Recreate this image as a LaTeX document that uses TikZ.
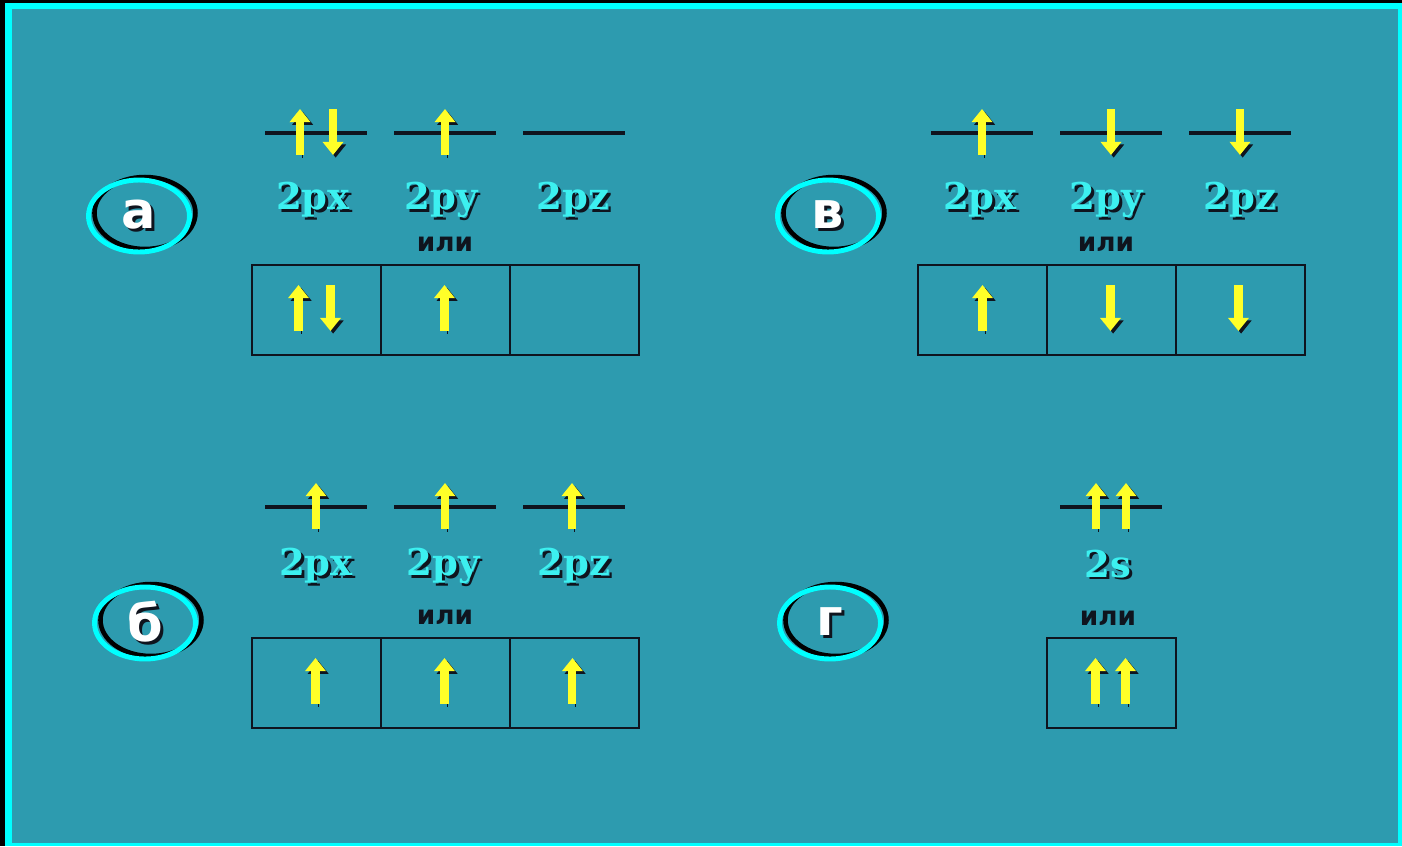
\documentclass[tikz,border=0pt]{standalone}
\usepackage{fontspec}
\setmainfont{DejaVu Sans}
\newfontfamily\orbfont{DejaVu Serif}
\usetikzlibrary{shapes.geometric, arrows.meta, positioning, calc}
\definecolor{panelteal}{RGB}{45,155,175}
\definecolor{framecyan}{RGB}{0,255,255}
\definecolor{labelcyan}{RGB}{60,240,240}
\definecolor{spinyellow}{RGB}{255,255,40}
\definecolor{inkdark}{RGB}{15,20,30}

% text with a dark drop shadow
\newcommand{\shadowtext}[2]{\makebox[0pt][l]{\hspace*{1.6pt}\raisebox{-1.6pt}{\textcolor{inkdark}{#2}}}\textcolor{#1}{#2}}

\tikzset{
  level/.style={fill=inkdark, minimum width=2.04cm, minimum height=0.08cm, inner sep=0pt, outer sep=0pt},
  cell/.style={draw=inkdark, line width=1.1pt, minimum width=2.58cm, minimum height=1.8cm, inner sep=0pt, outer sep=0pt},
  spin/.style={draw=spinyellow, line width=4.6pt, -{Triangle[width=11.5pt,length=7.5pt]},
    preaction={draw=inkdark, transform canvas={shift={(1.5pt,-1.5pt)}}}},
  orbname/.style={font=\orbfont\bfseries\fontsize{21}{24}\selectfont, inner sep=0pt},
  orword/.style={font=\bfseries\fontsize{15}{18}\selectfont, text=inkdark, inner sep=0pt},
  tag/.style={ellipse, draw=framecyan, line width=2.8pt, minimum width=2.02cm, minimum height=1.44cm,
    inner sep=0pt, font=\bfseries\fontsize{29}{32}\selectfont,
    preaction={draw=black, line width=2.6pt, transform canvas={shift={(3.4pt,1.7pt)}}}}
}

\begin{document}
\begin{tikzpicture}[x=0.02cm, y=-0.02cm]
        % Frame and panel
        \fill[black] (0,0) rectangle (1402,846);
        \fill[framecyan] (5,3) rectangle (1402,846);
        \fill[panelteal] (12,9) rectangle (1398,843);

        % Panel a
        \node[tag] (taga) at (139,216) {\shadowtext{white}{а}};
        \node[level] (ax) at (316,133) {};
        \node[level] (ay) at (445,133) {};
        \node[level] (az) at (574,133) {};
        \draw[spin] ($(ax.center)+(-16,22)$) -- +(0,-46);
        \draw[spin] ($(ax.center)+(17,-24)$) -- +(0,46);
        \draw[spin] ($(ay.center)+(0,22)$) -- +(0,-46);
        \node[orbname] (axl) at (313,201) {\shadowtext{labelcyan}{2px}};
        \node[orbname] (ayl) at (441,201) {\shadowtext{labelcyan}{2py}};
        \node[orbname] (azl) at (573,201) {\shadowtext{labelcyan}{2pz}};
        \node[orword] (aor) at (445,244) {или};
        \node[cell] (a1) at (316.5,310) {};
        \node[cell, right=0pt of a1] (a2) {};
        \node[cell, right=0pt of a2] (a3) {};
        \draw[spin] ($(a1.center)+(-18,21)$) -- +(0,-46);
        \draw[spin] ($(a1.center)+(14,-25)$) -- +(0,46);
        \draw[spin] ($(a2.center)+(-1,21)$) -- +(0,-46);

        % Panel v
        \node[tag] (tagv) at (828,216) {\shadowtext{white}{в}};
        \node[level] (vx) at (982,133) {};
        \node[level] (vy) at (1111,133) {};
        \node[level] (vz) at (1240,133) {};
        \draw[spin] ($(vx.center)+(0,22)$) -- +(0,-46);
        \draw[spin] ($(vy.center)+(0,-24)$) -- +(0,46);
        \draw[spin] ($(vz.center)+(0,-24)$) -- +(0,46);
        \node[orbname] (vxl) at (980,201) {\shadowtext{labelcyan}{2px}};
        \node[orbname] (vyl) at (1106,201) {\shadowtext{labelcyan}{2py}};
        \node[orbname] (vzl) at (1240,201) {\shadowtext{labelcyan}{2pz}};
        \node[orword] (vor) at (1106,244) {или};
        \node[cell] (v1) at (982.5,310) {};
        \node[cell, right=0pt of v1] (v2) {};
        \node[cell, right=0pt of v2] (v3) {};
        \draw[spin] ($(v1.center)+(0,21)$) -- +(0,-46);
        \draw[spin] ($(v2.center)+(-1,-25)$) -- +(0,46);
        \draw[spin] ($(v3.center)+(-2,-25)$) -- +(0,46);

        % Panel b
        \node[tag] (tagb) at (145,623) {\shadowtext{white}{б}};
        \node[level] (bx) at (316,507) {};
        \node[level] (by) at (445,507) {};
        \node[level] (bz) at (574,507) {};
        \draw[spin] ($(bx.center)+(0,22)$) -- +(0,-46);
        \draw[spin] ($(by.center)+(0,22)$) -- +(0,-46);
        \draw[spin] ($(bz.center)+(-2,22)$) -- +(0,-46);
        \node[orbname] (bxl) at (316,567) {\shadowtext{labelcyan}{2px}};
        \node[orbname] (byl) at (443,567) {\shadowtext{labelcyan}{2py}};
        \node[orbname] (bzl) at (574,567) {\shadowtext{labelcyan}{2pz}};
        \node[orword] (bor) at (445,617) {или};
        \node[cell] (b1) at (316.5,683) {};
        \node[cell, right=0pt of b1] (b2) {};
        \node[cell, right=0pt of b2] (b3) {};
        \draw[spin] ($(b1.center)+(-1,21)$) -- +(0,-46);
        \draw[spin] ($(b2.center)+(-1,21)$) -- +(0,-46);
        \draw[spin] ($(b3.center)+(-2,21)$) -- +(0,-46);

        % Panel g
        \node[tag] (tagg) at (830,623) {\shadowtext{white}{г}};
        \node[level] (gs) at (1111,507) {};
        \draw[spin] ($(gs.center)+(-15,22)$) -- +(0,-46);
        \draw[spin] ($(gs.center)+(15,22)$) -- +(0,-46);
        \node[orbname] (gsl) at (1108,565) {\shadowtext{labelcyan}{2s}};
        \node[orword] (gor) at (1108,618) {или};
        \node[cell] (g1) at (1111.5,683) {};
        \draw[spin] ($(g1.center)+(-16,21)$) -- +(0,-46);
        \draw[spin] ($(g1.center)+(14,21)$) -- +(0,-46);
      \end{tikzpicture}
\end{document}
